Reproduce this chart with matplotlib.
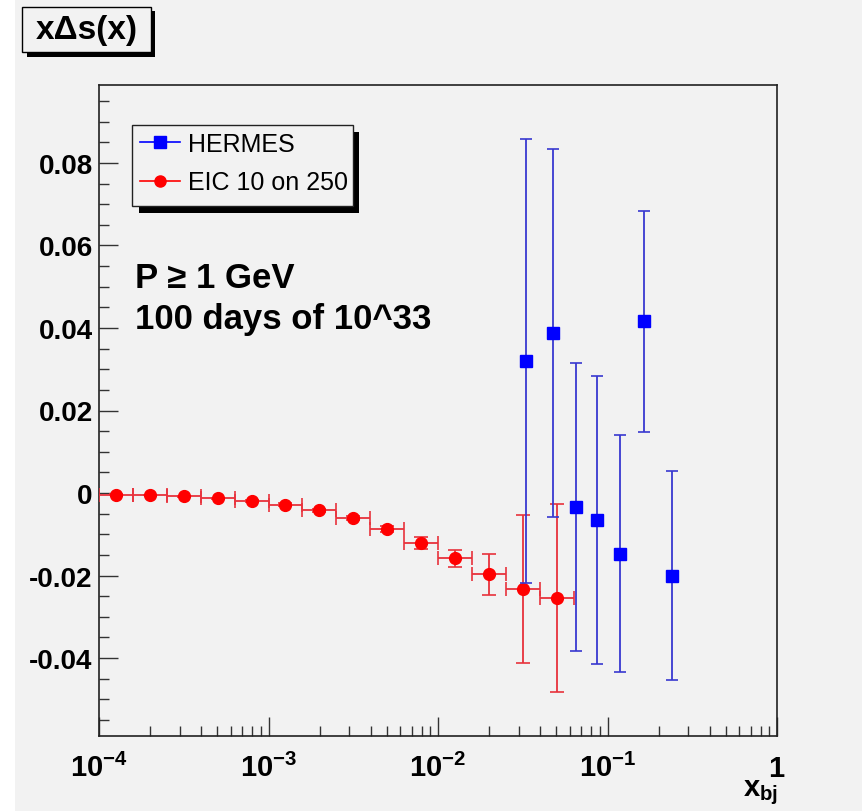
import matplotlib
matplotlib.use('Agg')
import matplotlib.pyplot as plt
from matplotlib.patches import Rectangle
from matplotlib.lines import Line2D
from matplotlib.ticker import MultipleLocator, NullFormatter

plt.rcParams['font.family'] = ['Liberation Sans', 'DejaVu Sans']
plt.rcParams['axes.unicode_minus'] = False
plt.rcParams['mathtext.fontset'] = 'custom'
plt.rcParams['mathtext.rm'] = 'Liberation Sans'
plt.rcParams['mathtext.bf'] = 'Liberation Sans:bold'
plt.rcParams['mathtext.it'] = 'Liberation Sans:italic'

# EIC 10 on 250 pseudo-data (bin centres, bin edges, values, errors)
eic_x = [1.259e-4, 1.995e-4, 3.162e-4, 5.012e-4, 7.943e-4, 1.259e-3, 1.995e-3,
         3.162e-3, 5.012e-3, 7.943e-3, 1.259e-2, 1.995e-2, 3.162e-2, 5.012e-2]
eic_xlo = [1.000e-4, 1.585e-4, 2.512e-4, 3.981e-4, 6.310e-4, 1.000e-3, 1.585e-3,
           2.512e-3, 3.981e-3, 6.310e-3, 1.000e-2, 1.585e-2, 2.512e-2, 3.981e-2]
eic_xhi = [1.585e-4, 2.512e-4, 3.981e-4, 6.310e-4, 1.000e-3, 1.585e-3, 2.512e-3,
           3.981e-3, 6.310e-3, 1.000e-2, 1.585e-2, 2.512e-2, 3.981e-2, 6.310e-2]
eic_y = [-0.0004, -0.0005, -0.0008, -0.0013, -0.0019, -0.0028, -0.0042,
         -0.0061, -0.0087, -0.0121, -0.0158, -0.0197, -0.0233, -0.0255]
eic_err = [0.0001, 0.0001, 0.0001, 0.0002, 0.0002, 0.0003, 0.0004,
           0.0005, 0.0008, 0.0014, 0.0021, 0.0050, 0.0180, 0.0228]

# HERMES points
hermes_x = [0.033, 0.048, 0.065, 0.087, 0.118, 0.165, 0.239]
hermes_y = [0.0320, 0.0389, -0.0033, -0.0066, -0.0147, 0.0416, -0.0200]
hermes_err = [0.0538, 0.0446, 0.0349, 0.0349, 0.0287, 0.0268, 0.0253]

xticks = [1e-4, 1e-3, 1e-2, 1e-1, 1]
xticklabels = [r'$\mathbf{10^{-4}}$', r'$\mathbf{10^{-3}}$', r'$\mathbf{10^{-2}}$',
               r'$\mathbf{10^{-1}}$', r'$\mathbf{1}$']
yticks = [-0.04, -0.02, 0, 0.02, 0.04, 0.06, 0.08]
yticklabels = ['-0.04', '-0.02', '0', '0.02', '0.04', '0.06', '0.08']

W, H = 867, 812
BG = '#f2f2f2'
fig = plt.figure(figsize=(W / 100, H / 100), dpi=100, facecolor='white')


def fig_rect(x0, y0, x1, y1, **kw):
    # rectangle given in pixels, y measured from the top
    r = Rectangle((x0 / W, 1 - y1 / H), (x1 - x0) / W, (y1 - y0) / H,
                  transform=fig.transFigure, **kw)
    fig.add_artist(r)
    return r


fig_rect(15, 0, 862, 812, facecolor=BG, edgecolor='none', zorder=-5)

ax = fig.add_axes([99 / W, 1 - 737 / H, 678 / W, 651 / H])
ax.set_facecolor(BG)
ax.set_xscale('log')
ax.set_xlim(1e-4, 1)
ax.set_ylim(-0.0589, 0.0989)

xerr = [[c - lo for c, lo in zip(eic_x, eic_xlo)],
        [hi - c for c, hi in zip(eic_x, eic_xhi)]]
ax.errorbar(eic_x, eic_y, xerr=xerr, yerr=eic_err, fmt='o', color='red',
            ms=8.5, ecolor='#e8323c', elinewidth=1.3, capsize=5, capthick=1.2,
            zorder=3)
ax.errorbar(hermes_x, hermes_y, yerr=hermes_err, fmt='s', color='blue',
            ms=9, ecolor='#3838d0', elinewidth=1.3, capsize=4, capthick=1.2,
            zorder=4)

# axes styling (ROOT look)
for s in ax.spines.values():
    s.set_linewidth(1.2)
    s.set_color('#222222')
ax.set_xticks(xticks, labels=xticklabels)
ax.xaxis.set_minor_formatter(NullFormatter())
ax.set_yticks(yticks, labels=yticklabels)
ax.yaxis.set_minor_locator(MultipleLocator(0.005))
ax.tick_params(axis='both', which='both', direction='in', top=False,
               right=False, color='#333333', width=1)
ax.tick_params(axis='both', which='major', length=14)
ax.tick_params(axis='both', which='minor', length=7)
ax.tick_params(axis='x', which='major', labelsize=21, pad=29)
ax.tick_params(axis='y', which='major', labelsize=20, pad=4.5)
for lbl in ax.get_xticklabels():
    lbl.set_va('baseline')
for lbl in ax.get_yticklabels():
    lbl.set_fontweight('bold')

ax.text(1.002, -0.064, r'$\mathbf{x_{bj}}$', transform=ax.transAxes,
        ha='right', va='top', fontsize=21)

ax.text(0.053, 0.690, 'P \u2265 1 GeV', transform=ax.transAxes,
        fontsize=25, fontweight='bold', va='baseline')
ax.text(0.053, 0.627, '100 days of 10^33', transform=ax.transAxes,
        fontsize=25, fontweight='bold', va='baseline')

# title pave with shadow
fig_rect(27, 12, 155, 58, facecolor='black', edgecolor='none', zorder=2)
fig_rect(22, 8, 151, 53, facecolor=BG, edgecolor='black', lw=1, zorder=3)
fig.text(86.5 / W, 1 - 31 / H, 'x\u0394s(x)', ha='center', va='center',
         fontsize=24, fontweight='bold', zorder=4)

# legend box with shadow
fig_rect(139, 133, 359, 214, facecolor='black', edgecolor='none', zorder=2)
fig_rect(132, 126, 353, 207, facecolor=BG, edgecolor='#222222', lw=1, zorder=3)
handles = [Line2D([], [], color='blue', marker='s', ms=8, lw=1.2),
           Line2D([], [], color='red', marker='o', ms=8, lw=1.2)]
fig.legend(handles, ['HERMES', 'EIC 10 on 250'], loc='center left',
           bbox_to_anchor=(140 / W, 1 - 164 / H), frameon=False,
           borderpad=0, borderaxespad=0, fontsize=18, handlelength=1.6,
           handletextpad=0.3, labelspacing=0.6, numpoints=1)

fig.savefig('out.png', dpi=100, facecolor='white')
